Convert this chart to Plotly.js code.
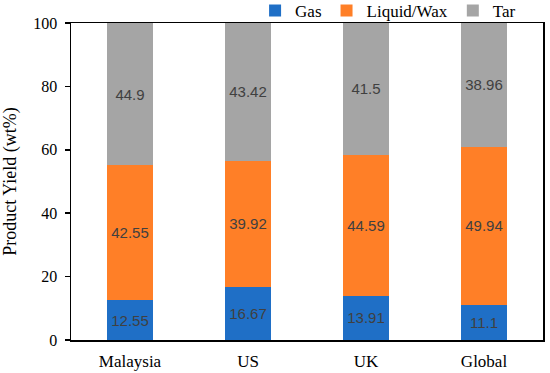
<!DOCTYPE html>
<html><head><meta charset="utf-8">
<script src="https://cdn.plot.ly/plotly-3.0.1.min.js"></script>
<style>html,body{margin:0;padding:0;background:#fff}#c{width:550px;height:373px}</style>
</head><body><div id="c"></div>
<script>
const categories = ["Malaysia", "US", "UK", "Global"];
const gas = [12.55, 16.67, 13.91, 11.1];
const liquidWax = [42.55, 39.92, 44.59, 49.94];
const tar = [44.9, 43.42, 41.5, 38.96];
const seriesNames = ["Gas", "Liquid/Wax", "Tar"];
const colors = ["#1F6FC6", "#FF7F27", "#A5A5A5"];
const yTicks = [0, 20, 40, 60, 80, 100];

const serif = "Liberation Serif";
const sans = "Liberation Sans";

const data = [gas, liquidWax, tar].map((vals, i) => ({
  type: "bar",
  name: seriesNames[i],
  x: categories,
  y: vals,
  text: vals.map(v => String(v)),
  textposition: "inside",
  insidetextanchor: "middle",
  constraintext: "none",
  textfont: {family: sans, size: 15, color: "#404040"},
  marker: {color: colors[i], line: {width: 0}},
  hoverinfo: "skip"
}));

const layout = {
  width: 550, height: 373,
  font: {family: serif, size: 16, color: "#000"},
  margin: {l: 71, r: 7, t: 23, b: 33, autoexpand: false},
  barmode: "stack",
  bargap: 0.61,
  paper_bgcolor: "#fff", plot_bgcolor: "#fff",
  showlegend: true,
  legend: {
    orientation: "h", x: 0.39, xanchor: "left", y: 1.038, yanchor: "middle",
    font: {family: serif, size: 17, color: "#000"},
    itemwidth: 30, traceorder: "normal", bgcolor: "rgba(0,0,0,0)",
    tracegroupgap: 0
  },
  xaxis: {
    showline: true, linecolor: "#000", linewidth: 1.5, mirror: true,
    ticks: "", showgrid: false, automargin: false, ticklabelstandoff: 5,
    tickfont: {family: serif, size: 17, color: "#000"}
  },
  yaxis: {
    range: [0, 100], tickvals: yTicks, ticktext: yTicks.map(String),
    showline: true, linecolor: "#000", linewidth: 1.5, mirror: true,
    ticks: "outside", ticklen: 5, tickcolor: "#000", tickwidth: 1.5,
    showgrid: false, zeroline: false, automargin: false, ticklabelstandoff: 4,
    tickfont: {family: serif, size: 16, color: "#000"},
    title: {text: "Product Yield (wt%)", font: {family: serif, size: 18, color: "#000"}, standoff: 12}
  }
};

Plotly.newPlot("c", data, layout, {displayModeBar: false, staticPlot: true});
</script></body></html>
